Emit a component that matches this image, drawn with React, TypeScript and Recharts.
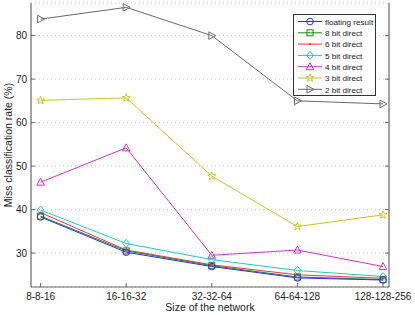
import React from "react";
import { LineChart, Line, XAxis, YAxis, CartesianGrid } from "recharts";

const sizes = ["8-8-16", "16-16-32", "32-32-64", "64-64-128", "128-128-256"];
const floating = [38.3, 30.2, 26.9, 24.3, 23.8];
const bit8 = [38.5, 30.5, 27.1, 24.5, 23.9];
const bit6 = [39.3, 30.7, 27.3, 25.0, 24.2];
const bit5 = [39.9, 32.2, 28.5, 26.0, 24.6];
const bit4 = [46.3, 54.2, 29.5, 30.7, 26.9];
const bit3 = [65.1, 65.7, 47.7, 36.1, 38.8];
const bit2 = [83.8, 86.5, 80.0, 65.0, 64.3];
const yTicks = [30, 40, 50, 60, 70, 80];

const series = [
  { key: "floating", name: "floating result", values: floating, color: "#2b2bff", shape: "circle" },
  { key: "bit8", name: "8 bit direct", values: bit8, color: "#1a8a1a", shape: "square" },
  { key: "bit6", name: "6 bit direct", values: bit6, color: "#ff3030", shape: "point" },
  { key: "bit5", name: "5 bit direct", values: bit5, color: "#20c8c8", shape: "diamond" },
  { key: "bit4", name: "4 bit direct", values: bit4, color: "#d030d0", shape: "triangle" },
  { key: "bit3", name: "3 bit direct", values: bit3, color: "#c8c820", shape: "star" },
  { key: "bit2", name: "2 bit direct", values: bit2, color: "#6a6a6a", shape: "tright" },
];

const data = sizes.map((s, i) => {
  const row: Record<string, string | number> = { size: s };
  series.forEach((se) => {
    row[se.key] = se.values[i];
  });
  return row;
});

const FONT = "'Liberation Sans', Arial, sans-serif";
const AXIS = "#666";

function marker(shape: string, color: string, cx: number, cy: number, key?: any) {
  const common = { stroke: color, fill: "none", strokeWidth: 1 };
  if (shape === "circle") return <circle key={key} cx={cx} cy={cy} r={3.3} {...common} />;
  if (shape === "square")
    return <rect key={key} x={cx - 3} y={cy - 3} width={6} height={6} {...common} />;
  if (shape === "point") return <circle key={key} cx={cx} cy={cy} r={1.1} fill={color} stroke="none" />;
  if (shape === "diamond")
    return (
      <polygon key={key} points={`${cx},${cy - 4} ${cx + 3.5},${cy} ${cx},${cy + 4} ${cx - 3.5},${cy}`} {...common} />
    );
  if (shape === "triangle")
    return (
      <polygon key={key} points={`${cx},${cy - 4} ${cx + 3.8},${cy + 3} ${cx - 3.8},${cy + 3}`} {...common} />
    );
  if (shape === "tright")
    return (
      <polygon key={key} points={`${cx + 4},${cy} ${cx - 3},${cy - 3.8} ${cx - 3},${cy + 3.8}`} {...common} />
    );
  // star
  const pts: string[] = [];
  for (let k = 0; k < 10; k++) {
    const r = k % 2 === 0 ? 4.2 : 1.8;
    const a = -Math.PI / 2 + (k * Math.PI) / 5;
    pts.push(`${cx + r * Math.cos(a)},${cy + r * Math.sin(a)}`);
  }
  return <polygon key={key} points={pts.join(" ")} {...common} />;
}

const LeftTick = (props: any) => {
  const { x, y, payload } = props;
  return (
    <g>
      <line x1={x + 4} x2={x + 8} y1={y} y2={y} stroke={AXIS} />
      <text x={x} y={y} dy={3.5} textAnchor="end" fontSize={10} fill="#222" fontFamily={FONT}>
        {payload.value}
      </text>
    </g>
  );
};

const RightTick = (props: any) => {
  const { x, y } = props;
  return <line x1={x} x2={x - 4} y1={y} y2={y} stroke={AXIS} />;
};

const BottomTick = (props: any) => {
  const { x, y, payload } = props;
  return (
    <g>
      <line x1={x} x2={x} y1={y - 5} y2={y - 9} stroke={AXIS} />
      <text x={x} y={y} dy={8} textAnchor="middle" fontSize={10} fill="#222" fontFamily={FONT}>
        {payload.value}
      </text>
    </g>
  );
};

const TopTick = (props: any) => {
  const { x, y } = props;
  return <line x1={x} x2={x} y1={y} y2={y + 4} stroke={AXIS} />;
};

const LegendBox = () => (
  <div
    style={{
      position: "absolute",
      left: 293,
      top: 14,
      width: 83,
      height: 82,
      background: "#fff",
      border: "1px solid #333",
      boxSizing: "border-box",
    }}
  >
    <svg width={81} height={80} style={{ display: "block" }}>
      {series.map((s, i) => {
        const cy = 6.5 + i * 11.3;
        return (
          <g key={s.key}>
            <line x1={4} x2={28} y1={cy} y2={cy} stroke={s.color} strokeWidth={1} />
            {marker(s.shape, s.color, 16, cy)}
            <text x={31} y={cy} dy={3.2} fontSize={8.1} fill="#222" fontFamily={FONT}>
              {s.name}
            </text>
          </g>
        );
      })}
    </svg>
  </div>
);

export default function App() {
  return (
    <div style={{ position: "absolute", left: 0, top: 0, width: 415, height: 315, background: "#fff" }}>
      <LineChart
        width={415}
        height={315}
        data={data}
        margin={{ top: 3, right: 0, left: 0, bottom: 0 }}
      >
        <CartesianGrid
          vertical={false}
          stroke="#c4c4c4"
          strokeDasharray="1 3"
          yAxisId="left"
          xAxisId="bottom"
        />
        <XAxis
          dataKey="size"
          xAxisId="bottom"
          height={28}
          padding={{ left: 9.6, right: 6 }}
          tickSize={0}
          tickMargin={5}
          tick={<BottomTick />}
          axisLine={{ stroke: AXIS, strokeWidth: 1.2 }}
          interval={0}
          label={{
            value: "Size of the network",
            content: () => (
              <text x={210} y={311} textAnchor="middle" fontSize={10.5} fill="#222" fontFamily={FONT}>
                Size of the network
              </text>
            ),
          }}
        />
        <XAxis
          dataKey="size"
          xAxisId="top"
          orientation="top"
          height={0}
          padding={{ left: 9.6, right: 6 }}
          tickSize={0}
          tickMargin={0}
          tick={<TopTick />}
          axisLine={{ stroke: AXIS, strokeWidth: 1.2 }}
          interval={0}
        />
        <YAxis
          yAxisId="left"
          width={31}
          domain={[22.2, 87.5]}
          allowDataOverflow
          ticks={yTicks}
          tickSize={0}
          tickMargin={4}
          tick={<LeftTick />}
          axisLine={{ stroke: AXIS, strokeWidth: 1.2 }}
          label={{
            value: "Miss classification rate (%)",
            content: () => (
              <text
                transform="translate(11.5,145) rotate(-90)"
                textAnchor="middle"
                fontSize={10.5}
                fill="#222"
                fontFamily={FONT}
              >
                Miss classification rate (%)
              </text>
            ),
          }}
        />
        <YAxis
          yAxisId="right"
          orientation="right"
          width={26}
          domain={[22.2, 87.5]}
          allowDataOverflow
          ticks={yTicks}
          tickSize={0}
          tickMargin={0}
          tick={<RightTick />}
          axisLine={{ stroke: AXIS, strokeWidth: 1.2 }}
        />
        <Line
          dataKey="bit2"
          xAxisId="top"
          yAxisId="right"
          stroke="none"
          dot={false}
          activeDot={false}
          legendType="none"
          isAnimationActive={false}
        />
        {series
          .slice()
          .reverse()
          .map((s) => (
            <Line
              key={s.key}
              dataKey={s.key}
              name={s.name}
              xAxisId="bottom"
              yAxisId="left"
              stroke={s.color}
              strokeWidth={1}
              isAnimationActive={false}
              dot={(p: any) => marker(s.shape, s.color, p.cx, p.cy, `${s.key}-${p.index}`)}
              activeDot={false}
            />
          ))}
      </LineChart>
      <LegendBox />
    </div>
  );
}
